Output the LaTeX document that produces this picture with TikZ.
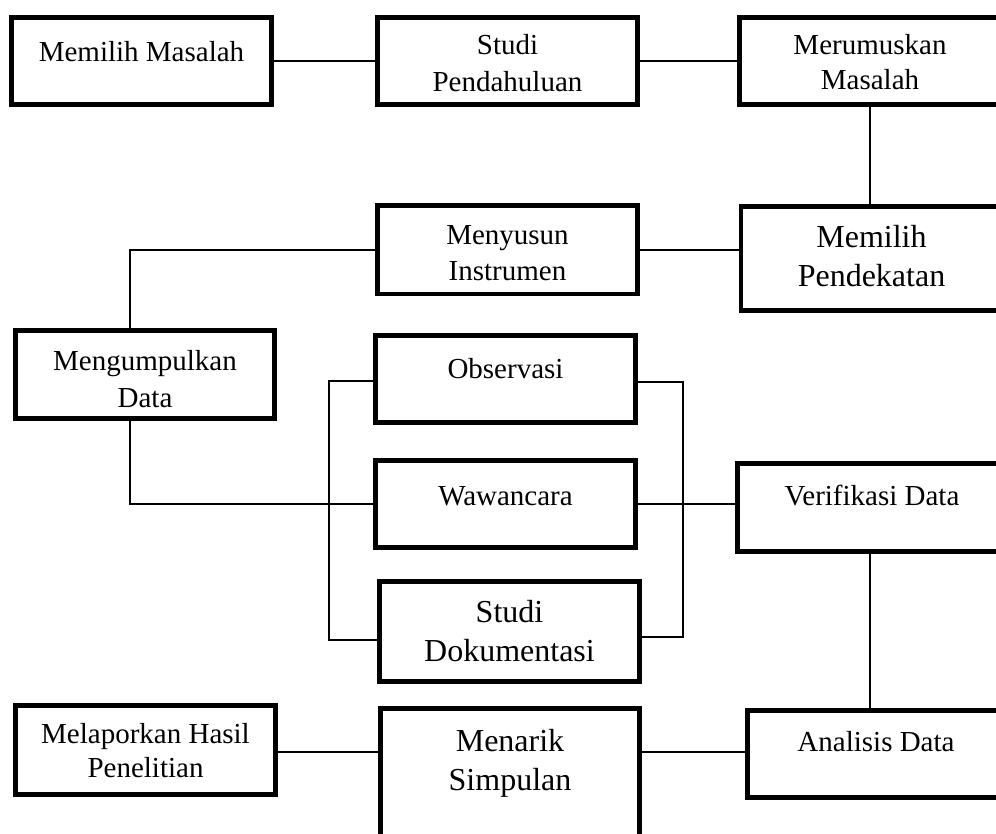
\documentclass[tikz,border=0pt]{standalone}
\usepackage{fontspec}
\setmainfont{Liberation Serif}
\begin{document}
\begin{tikzpicture}[x=1pt,y=-1pt,
  box/.style={draw=black,line width=4.6pt,rectangle,inner sep=0pt,fill=white},
  conn/.style={draw=black,line width=1.2pt},
  txt/.style={anchor=base,align=center,inner sep=0pt,font={\fontsize{29}{36}\selectfont}},
  txtbig/.style={anchor=base,align=center,inner sep=0pt,font={\fontsize{32}{39}\selectfont}}]
\useasboundingbox (0,0) rectangle (996,834);
\fill[white] (0,0) rectangle (996,834);
\clip (0,0) rectangle (996,834);
% boxes (outer extents minus line width)
\node[box,minimum width=260.4pt,minimum height=87.4pt] (A) at (141.5,61) {};
\node[box,minimum width=260.4pt,minimum height=87.4pt] (B) at (507.5,61) {};
\node[box,minimum width=261.4pt,minimum height=87.4pt] (C) at (870,61) {};
\node[box,minimum width=260.4pt,minimum height=88.4pt] (D) at (507.5,250) {};
\node[box,minimum width=261.4pt,minimum height=104.4pt] (E) at (871.5,258.5) {};
\node[box,minimum width=259.4pt,minimum height=88.4pt] (F) at (145,374.5) {};
\node[box,minimum width=260.4pt,minimum height=87.4pt] (G) at (505.5,379) {};
\node[box,minimum width=260.4pt,minimum height=87.4pt] (H) at (505.5,504) {};
\node[box,minimum width=260.4pt,minimum height=100.4pt] (I) at (509.5,631.5) {};
\node[box,minimum width=269.4pt,minimum height=88.4pt] (J) at (872,507.5) {};
\node[box,minimum width=257.4pt,minimum height=87.4pt] (K) at (876,754) {};
\node[box,minimum width=260.4pt,minimum height=89.4pt] (L) at (145.5,750) {};
\node[box,minimum width=259.4pt,minimum height=145.4pt] (M) at (510,781) {};
% texts (base anchor = baseline of the last line)
\node[txt] (tA) at (141.5,62) {Memilih Masalah};
\node[txt,font={\fontsize{29}{37}\selectfont}] (tB) at (507.5,92) {Studi\\Pendahuluan};
\node[txt,font={\fontsize{29}{35}\selectfont}] (tC) at (870,90) {Merumuskan\\Masalah};
\node[txt] (tD) at (507.5,281) {Menyusun\\Instrumen};
\node[txtbig] (tE) at (871.5,287) {Memilih\\Pendekatan};
\node[txt,font={\fontsize{29}{37}\selectfont}] (tF) at (145,407) {Mengumpulkan\\Data};
\node[txt] (tG) at (505.5,378) {Observasi};
\node[txt] (tH) at (505.5,505) {Wawancara};
\node[txtbig] (tI) at (509.5,661) {Studi\\Dokumentasi};
\node[txt] (tJ) at (872,505) {Verifikasi Data};
\node[txt] (tK) at (876,751) {Analisis Data};
\node[txt,font={\fontsize{29}{34}\selectfont}] (tL) at (145.5,777) {Melaporkan Hasil\\Penelitian};
\node[txtbig] (tM) at (510,790) {Menarik\\Simpulan};
% helper coordinates
\coordinate (bl1) at (329,381);
\coordinate (bl2) at (329,640);
\coordinate (br1) at (683,382);
\coordinate (br2) at (683,637);
\coordinate (fx) at (130,250);
% connectors
\draw[conn] (A.east) -- (B.west);
\draw[conn] (B.east) -- (C.west);
\draw[conn] (C.south) -- (C.south |- E.north);
\draw[conn] (D.east) -- (D.east -| E.west);
\draw[conn] (D.west) -| (fx |- F.north);
\draw[conn] (fx |- F.south) |- (H.west);
\draw[conn] (G.west |- bl1) -- (bl1) -- (bl2) -- (I.west |- bl2);
\draw[conn] (G.east |- br1) -- (br1) -- (br2) -- (I.east |- br2);
\draw[conn] (H.east) -- (H.east -| J.west);
\draw[conn] (J.south -| C.south) -- (C.south |- K.north);
\draw[conn] (L.east |- 0,752) -- (M.west |- 0,752);
\draw[conn] (M.east |- 0,752) -- (K.west |- 0,752);
\end{tikzpicture}
\end{document}
